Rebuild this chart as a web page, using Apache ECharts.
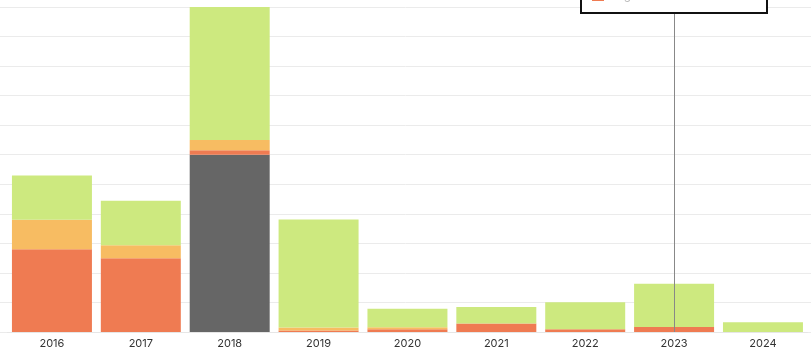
<!DOCTYPE html>
<html><head><meta charset="utf-8">
<script src="https://cdn.jsdelivr.net/npm/echarts@6/dist/echarts.min.js"></script>
<style>html,body{margin:0;padding:0;background:#fff}#c{width:811px;height:354px}</style>
</head><body><div id="c"></div>
<script>
const categories = ['2016','2017','2018','2019','2020','2021','2022','2023','2024'];
const seriesNames = ['Unrated','High','Medium','Low'];
const unrated = [0, 0, 60, 0, 0, 0, 0, 0, 0];
const high    = [28, 25, 1.5, 0.5, 0.9, 2.9, 0.9, 1.7, 0];
const medium  = [10, 4.4, 3.5, 1.0, 0.7, 0, 0, 0, 0];
const low     = [15, 15, 45, 36.6, 6.3, 5.6, 9.2, 14.6, 3.3];
const colors  = ['#666666', '#ef7b52', '#f7bc62', '#cde97f'];
const values  = [unrated, high, medium, low];

const chart = echarts.init(document.getElementById('c'));
chart.setOption({
  animation: false,
  grid: [
    { left: 7.5, right: 3.6, top: 7, bottom: 22 },
    { left: 0, right: 0, top: 7, bottom: 22 }
  ],
  tooltip: {
    trigger: 'axis',
    triggerOn: 'none',
    alwaysShowContent: true,
    transitionDuration: 0,
    backgroundColor: '#fff',
    borderColor: '#111',
    borderWidth: 2,
    padding: [10, 10, 9, 10],
    textStyle: { color: '#333', fontSize: 12, fontFamily: 'Inter' },
    extraCssText: 'box-shadow:none;border-radius:0;width:164px;',
    axisPointer: { type: 'line', lineStyle: { color: '#888', width: 1, type: 'solid' }, triggerEmphasis: false },
    position: function (point, params, dom, rect, size) {
      return [580, 14 - size.contentSize[1]];
    },
    formatter: function (params) {
      const order = [0, 3, 2, 1];
      return order.map(function (i) {
        const p = params.find(function (q) { return q.seriesIndex === i; });
        const v = p ? p.value : 0;
        return '<div style="display:flex;align-items:center;line-height:16px;">' +
          '<span style="display:inline-block;width:12px;height:12px;background:' + colors[i] + ';margin-right:8px;"></span>' +
          '<span style="color:#bbb">' + seriesNames[i] + ': ' + v + '</span></div>';
      }).join('');
    }
  },
  xAxis: [
    {
      type: 'category',
      gridIndex: 0,
      data: categories,
      axisLine: { lineStyle: { color: '#e6e6e6' } },
      axisTick: { alignWithLabel: true, length: 5, lineStyle: { color: '#333' } },
      axisLabel: { color: '#333', fontSize: 11, margin: 6, fontFamily: 'Inter' }
    },
    {
      type: 'value',
      gridIndex: 1,
      show: false,
      axisPointer: { show: false }
    }
  ],
  yAxis: [
    {
      type: 'value',
      gridIndex: 0,
      min: 0, max: 110, interval: 10,
      axisLabel: { show: false },
      axisLine: { show: false },
      axisTick: { show: false },
      splitLine: { show: false }
    },
    {
      type: 'value',
      gridIndex: 1,
      min: 0, max: 110, interval: 10,
      axisLabel: { show: false },
      axisLine: { show: false },
      axisTick: { show: false },
      splitLine: { lineStyle: { color: '#ebebeb' } },
      z: 0
    }
  ],
  series: values.map(function (arr, i) {
    return {
      name: seriesNames[i],
      type: 'bar',
      stack: 'total',
      data: arr,
      barCategoryGap: '10%',
      itemStyle: { color: colors[i] },
      emphasis: { disabled: true }
    };
  })
});
chart.dispatchAction({ type: 'showTip', seriesIndex: 0, dataIndex: 7 });
</script>
</body></html>
